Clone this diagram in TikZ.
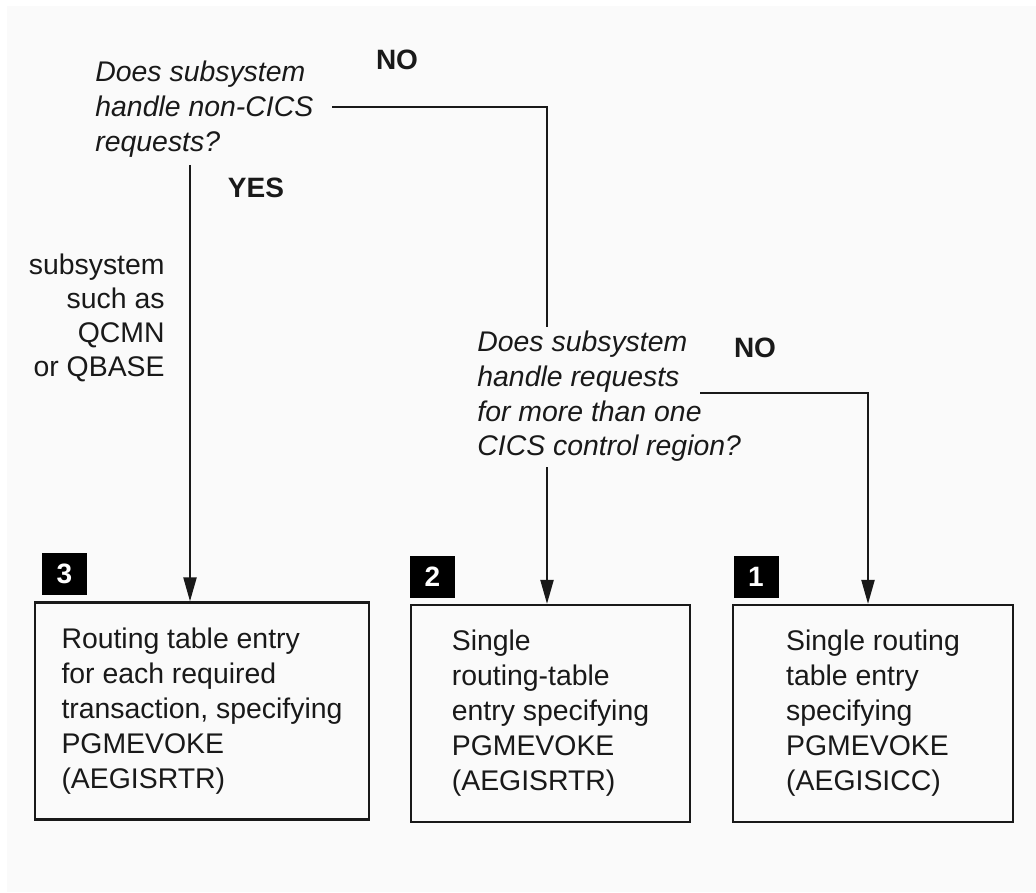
\documentclass[tikz,border=0pt]{standalone}
\usepackage{fontspec}
\setmainfont{Liberation Sans}
\usepackage{tikz}
\usetikzlibrary{positioning, arrows.meta, calc}
\definecolor{pgBack}{RGB}{250, 250, 250}
\definecolor{pgInk}{RGB}{25, 25, 25}

\begin{document}
\begin{tikzpicture}[x=0.5pt, y=-0.5pt,
    every node/.style={text=pgInk, font=\fontsize{14.2}{17.5}\selectfont},
    question/.style={align=left, inner sep=0pt, font=\fontsize{14.2}{17.3}\selectfont\itshape},
    answer/.style={inner sep=0pt, font=\fontsize{14}{17}\selectfont\bfseries},
    entrybox/.style={draw=pgInk, line width=1.1pt, align=left, minimum height=108.5pt, inner sep=0pt},
    badge/.style={fill=black, text=white, minimum width=22.5pt, minimum height=21pt, inner sep=0pt, font=\fontsize{14}{17}\selectfont\bfseries},
    flow/.style={draw=pgInk, line width=1.1pt},
    arrow/.style={flow, -{Triangle[length=12pt, width=6.5pt]}}]

  % Background
  \fill[white] (0,0) rectangle (1036,892);
  \fill[pgBack] (7,6) rectangle (1036,892);
  \useasboundingbox (0,0) rectangle (1036,892);

  % Questions
  \node[question, anchor=north west] (q1) at (95,61) {Does subsystem\\handle non-CICS\\requests?};
  \node[question, anchor=north west] (q2) at (477,331) {Does subsystem\\handle requests\\for more than one\\CICS control region?};

  % Answers
  \node[answer] (no1) at (397,60) {NO};
  \node[answer] (yes1) at (256,188) {YES};
  \node[answer] (no2) at (755,348) {NO};
  \node[align=right, inner sep=0pt, anchor=north east, font=\fontsize{14.2}{17}\selectfont] (note) at (165,254) {subsystem\\such as\\QCMN\\or QBASE};

  % Boxes
  \node[entrybox, minimum width=167pt] (b3) at (202,711) {Routing table entry\\for each required\\transaction, specifying\\PGMEVOKE\\(AEGISRTR)};
  \node[entrybox, minimum width=139.5pt] (b2) at (550.5,713.5) {Single\\routing-table\\entry specifying\\PGMEVOKE\\(AEGISRTR)};
  \node[entrybox, minimum width=140pt] (b1) at (873,713.5) {Single routing\\table entry\\specifying\\PGMEVOKE\\(AEGISICC)};

  % Badges
  \node[badge] (n3) at (64.5,574) {3};
  \node[badge] (n2) at (432.5,577) {2};
  \node[badge] (n1) at (756,577) {1};

  % Connectors
  \coordinate (q1out) at (332,107);
  \coordinate (q2in) at (547,327);
  \coordinate (q1down) at (190,165);
  \coordinate (q2down) at (547,467);
  \coordinate (q2out) at (700,393);
  \coordinate (q2turn) at (868,393);
  \draw[flow] (q1out) -| (q2in);
  \draw[arrow] (q1down) -- (q1down |- b3.north);
  \draw[arrow] (q2down) -- (q2down |- b2.north);
  \draw[arrow] (q2out) -- (q2turn) -- (q2turn |- b1.north);
\end{tikzpicture}
\end{document}
